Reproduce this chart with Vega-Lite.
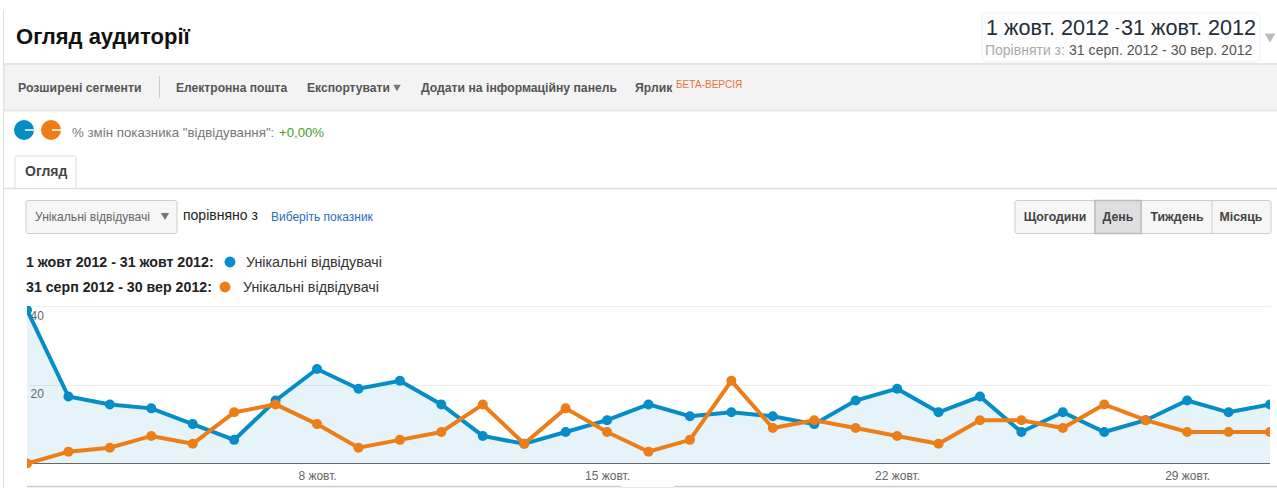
{"$schema":"https://vega.github.io/schema/vega-lite/v6.json","width":1243,"height":164,"autosize":"none","padding":{"left":27,"top":306,"right":7,"bottom":18},"background":"#ffffff","view":{"stroke":null},"resolve":{"axis":{"x":"independent","y":"independent"}},"config":{"font":"Liberation Sans","text":{"font":"Liberation Sans","align":"left","baseline":"middle"}},
"datasets":{"visits":[
{"day":1,"series":"1 жовт 2012 - 31 жовт 2012","visitors":39},{"day":2,"series":"1 жовт 2012 - 31 жовт 2012","visitors":17},{"day":3,"series":"1 жовт 2012 - 31 жовт 2012","visitors":15},{"day":4,"series":"1 жовт 2012 - 31 жовт 2012","visitors":14},{"day":5,"series":"1 жовт 2012 - 31 жовт 2012","visitors":10},{"day":6,"series":"1 жовт 2012 - 31 жовт 2012","visitors":6},{"day":7,"series":"1 жовт 2012 - 31 жовт 2012","visitors":16},{"day":8,"series":"1 жовт 2012 - 31 жовт 2012","visitors":24},{"day":9,"series":"1 жовт 2012 - 31 жовт 2012","visitors":19},{"day":10,"series":"1 жовт 2012 - 31 жовт 2012","visitors":21},{"day":11,"series":"1 жовт 2012 - 31 жовт 2012","visitors":15},{"day":12,"series":"1 жовт 2012 - 31 жовт 2012","visitors":7},{"day":13,"series":"1 жовт 2012 - 31 жовт 2012","visitors":5},{"day":14,"series":"1 жовт 2012 - 31 жовт 2012","visitors":8},{"day":15,"series":"1 жовт 2012 - 31 жовт 2012","visitors":11},{"day":16,"series":"1 жовт 2012 - 31 жовт 2012","visitors":15},{"day":17,"series":"1 жовт 2012 - 31 жовт 2012","visitors":12},{"day":18,"series":"1 жовт 2012 - 31 жовт 2012","visitors":13},{"day":19,"series":"1 жовт 2012 - 31 жовт 2012","visitors":12},{"day":20,"series":"1 жовт 2012 - 31 жовт 2012","visitors":10},{"day":21,"series":"1 жовт 2012 - 31 жовт 2012","visitors":16},{"day":22,"series":"1 жовт 2012 - 31 жовт 2012","visitors":19},{"day":23,"series":"1 жовт 2012 - 31 жовт 2012","visitors":13},{"day":24,"series":"1 жовт 2012 - 31 жовт 2012","visitors":17},{"day":25,"series":"1 жовт 2012 - 31 жовт 2012","visitors":8},{"day":26,"series":"1 жовт 2012 - 31 жовт 2012","visitors":13},{"day":27,"series":"1 жовт 2012 - 31 жовт 2012","visitors":8},{"day":28,"series":"1 жовт 2012 - 31 жовт 2012","visitors":11},{"day":29,"series":"1 жовт 2012 - 31 жовт 2012","visitors":16},{"day":30,"series":"1 жовт 2012 - 31 жовт 2012","visitors":13},{"day":31,"series":"1 жовт 2012 - 31 жовт 2012","visitors":15},
{"day":1,"series":"31 серп 2012 - 30 вер 2012","visitors":0},{"day":2,"series":"31 серп 2012 - 30 вер 2012","visitors":3},{"day":3,"series":"31 серп 2012 - 30 вер 2012","visitors":4},{"day":4,"series":"31 серп 2012 - 30 вер 2012","visitors":7},{"day":5,"series":"31 серп 2012 - 30 вер 2012","visitors":5},{"day":6,"series":"31 серп 2012 - 30 вер 2012","visitors":13},{"day":7,"series":"31 серп 2012 - 30 вер 2012","visitors":15},{"day":8,"series":"31 серп 2012 - 30 вер 2012","visitors":10},{"day":9,"series":"31 серп 2012 - 30 вер 2012","visitors":4},{"day":10,"series":"31 серп 2012 - 30 вер 2012","visitors":6},{"day":11,"series":"31 серп 2012 - 30 вер 2012","visitors":8},{"day":12,"series":"31 серп 2012 - 30 вер 2012","visitors":15},{"day":13,"series":"31 серп 2012 - 30 вер 2012","visitors":5},{"day":14,"series":"31 серп 2012 - 30 вер 2012","visitors":14},{"day":15,"series":"31 серп 2012 - 30 вер 2012","visitors":8},{"day":16,"series":"31 серп 2012 - 30 вер 2012","visitors":3},{"day":17,"series":"31 серп 2012 - 30 вер 2012","visitors":6},{"day":18,"series":"31 серп 2012 - 30 вер 2012","visitors":21},{"day":19,"series":"31 серп 2012 - 30 вер 2012","visitors":9},{"day":20,"series":"31 серп 2012 - 30 вер 2012","visitors":11},{"day":21,"series":"31 серп 2012 - 30 вер 2012","visitors":9},{"day":22,"series":"31 серп 2012 - 30 вер 2012","visitors":7},{"day":23,"series":"31 серп 2012 - 30 вер 2012","visitors":5},{"day":24,"series":"31 серп 2012 - 30 вер 2012","visitors":11},{"day":25,"series":"31 серп 2012 - 30 вер 2012","visitors":11},{"day":26,"series":"31 серп 2012 - 30 вер 2012","visitors":9},{"day":27,"series":"31 серп 2012 - 30 вер 2012","visitors":15},{"day":28,"series":"31 серп 2012 - 30 вер 2012","visitors":11},{"day":29,"series":"31 серп 2012 - 30 вер 2012","visitors":8},{"day":30,"series":"31 серп 2012 - 30 вер 2012","visitors":8},{"day":31,"series":"31 серп 2012 - 30 вер 2012","visitors":8}
]},
"data":{"name":"visits"},
"layer":[
{"transform":[{"filter":"datum.series === '1 жовт 2012 - 31 жовт 2012'"}],"mark":{"type":"area","color":"#058dc7","opacity":0.1,"clip":true},"encoding":{"x":{"field":"day","type":"quantitative","scale":{"domain":[1,31],"nice":false,"zero":false},"axis":{"values":[8,15,22,29],"grid":false,"ticks":false,"tickSize":0,"domain":false,"title":null,"labelExpr":"datum.value + ' жовт.'","labelColor":"#666666","labelFontSize":12,"labelPadding":0,"labelFont":"Liberation Sans"}},"y":{"field":"visitors","type":"quantitative","scale":{"domain":[-1.651,40],"nice":false,"zero":false},"axis":{"values":[20,40],"grid":true,"gridColor":"#eeeeee","ticks":false,"tickSize":0,"domain":false,"title":null,"labelAlign":"left","labelBaseline":"middle","labelPadding":-3,"labelOffset":9,"labelColor":"#666666","labelFontSize":12,"labelFont":"Liberation Sans"}},"y2":{"datum":0}}},
{"data":{"values":[{"baseline":0}]},"mark":{"type":"rule","color":"#666666","strokeWidth":1},"encoding":{"y":{"field":"baseline","type":"quantitative","axis":null}}},
{"mark":{"type":"line","strokeWidth":4,"clip":true},"encoding":{"x":{"field":"day","type":"quantitative","axis":null},"y":{"field":"visitors","type":"quantitative","axis":null},"color":{"field":"series","type":"nominal","legend":null,"scale":{"domain":["1 жовт 2012 - 31 жовт 2012","31 серп 2012 - 30 вер 2012"],"range":["#058dc7","#ed7e17"]}}}},
{"mark":{"type":"point","filled":true,"opacity":1,"size":100,"clip":true},"encoding":{"x":{"field":"day","type":"quantitative","axis":null},"y":{"field":"visitors","type":"quantitative","axis":null},"color":{"field":"series","type":"nominal","legend":null}}},

{"data":{"values":[{}]},"mark":{"type":"rule","color":"#dddddd","strokeWidth":1},"encoding":{"x":{"datum":0.433,"axis":null},"y":{"datum":115.175,"axis":null},"y2":{"datum":-6.222}}},
{"data":{"values":[{}]},"mark":{"type":"rect","fill":"#f3f3f3","stroke":"#e5e5e5","strokeWidth":2},"encoding":{"x":{"datum":0.445,"axis":null},"x2":{"datum":31.4},"y":{"datum":101.46,"axis":null},"y2":{"datum":89.651}}},
{"data":{"values":[{}]},"mark":{"type":"rule","color":"#cccccc"},"encoding":{"x":{"datum":4.198,"axis":null},"y":{"datum":98.413,"axis":null},"y2":{"datum":92.825}}},
{"data":{"values":[{}]},"mark":{"type":"rect","fill":"#fefefe","stroke":"#f0f0f0","cornerRadius":4},"encoding":{"x":{"datum":24.049,"axis":null},"x2":{"datum":30.759},"y":{"datum":114.413,"axis":null},"y2":{"datum":101.968}}},
{"data":{"values":[{}]},"mark":{"type":"point","shape":"triangle-down","filled":true,"opacity":1,"color":"#bbbbbb","size":110},"encoding":{"x":{"datum":31,"axis":null},"y":{"datum":108.063,"axis":null}}},
{"data":{"values":[{}]},"mark":{"type":"rule","color":"#dddddd","strokeWidth":1.5},"encoding":{"x":{"datum":0.445,"axis":null},"x2":{"datum":31.169},"y":{"datum":69.841,"axis":null}}},
{"data":{"values":[{}]},"mark":{"type":"rect","fill":"#ffffff","stroke":"#dddddd","cornerRadiusTopLeft":2,"cornerRadiusTopRight":2},"encoding":{"x":{"datum":0.71,"axis":null},"x2":{"datum":2.183},"y":{"datum":78.095,"axis":null},"y2":{"datum":69.841}}},
{"data":{"values":[{}]},"mark":{"type":"rect","fill":"#f6f6f6","stroke":"#cccccc","cornerRadius":2},"encoding":{"x":{"datum":0.976,"axis":null},"x2":{"datum":4.62},"y":{"datum":66.794,"axis":null},"y2":{"datum":58.413}}},
{"data":{"values":[{}]},"mark":{"type":"point","shape":"triangle-down","filled":true,"opacity":1,"color":"#777777","size":70},"encoding":{"x":{"datum":4.331,"axis":null},"y":{"datum":62.73,"axis":null}}},
{"data":{"values":[{}]},"mark":{"type":"rect","fill":"#f6f6f6","stroke":"#cccccc","cornerRadius":2},"encoding":{"x":{"datum":24.846,"axis":null},"x2":{"datum":31.024},"y":{"datum":66.794,"axis":null},"y2":{"datum":58.413}}},
{"data":{"values":[{}]},"mark":{"type":"rect","fill":"#dedede","stroke":"#bbbbbb","strokeWidth":1.5},"encoding":{"x":{"datum":26.776,"axis":null},"x2":{"datum":27.887},"y":{"datum":66.794,"axis":null},"y2":{"datum":58.413}}},
{"data":{"values":[{}]},"mark":{"type":"rule","color":"#cccccc"},"encoding":{"x":{"datum":29.6,"axis":null},"y":{"datum":66.794,"axis":null},"y2":{"datum":58.413}}},
{"data":{"values":[{}]},"mark":{"type":"rule","color":"#cccccc","strokeWidth":1.5},"encoding":{"x":{"datum":1,"axis":null},"x2":{"datum":15.336},"y":{"datum":-5.841,"axis":null}}},
{"data":{"values":[{}]},"mark":{"type":"rule","color":"#e6e6e6","strokeWidth":1},"encoding":{"x":{"datum":15.336,"axis":null},"x2":{"datum":16.616},"y":{"datum":-6.1,"axis":null}}},
{"data":{"values":[{}]},"mark":{"type":"rule","color":"#cccccc","strokeWidth":1.5},"encoding":{"x":{"datum":16.616,"axis":null},"x2":{"datum":31.169},"y":{"datum":-5.841,"axis":null}}},
{"data":{"values":[{}]},"mark":{"type":"point","shape":"circle","filled":true,"opacity":1,"color":"#058dc7","size":400},"encoding":{"x":{"datum":0.928,"axis":null},"y":{"datum":84.698,"axis":null}}},
{"data":{"values":[{}]},"mark":{"type":"point","shape":"circle","filled":true,"opacity":1,"color":"#ed7e17","size":400},"encoding":{"x":{"datum":1.579,"axis":null},"y":{"datum":84.698,"axis":null}}},
{"data":{"values":[{}]},"mark":{"type":"rule","color":"#ffffff","strokeWidth":1.5},"encoding":{"x":{"datum":0.952,"axis":null},"x2":{"datum":1.169},"y":{"datum":84.698,"axis":null}}},
{"data":{"values":[{}]},"mark":{"type":"rule","color":"#ffffff","strokeWidth":1.5},"encoding":{"x":{"datum":1.603,"axis":null},"x2":{"datum":1.821},"y":{"datum":84.698,"axis":null}}},
{"data":{"values":[{}]},"mark":{"type":"point","shape":"triangle-down","filled":true,"opacity":1,"color":"#777777","size":55},"encoding":{"x":{"datum":9.93,"axis":null},"y":{"datum":95.365,"axis":null}}},
{"data":{"values":[{}]},"mark":{"type":"point","shape":"circle","filled":true,"opacity":1,"color":"#058dc7","size":120},"encoding":{"x":{"datum":5.899,"axis":null},"y":{"datum":51.175,"axis":null}}},
{"data":{"values":[{}]},"mark":{"type":"point","shape":"circle","filled":true,"opacity":1,"color":"#ed7e17","size":120},"encoding":{"x":{"datum":5.779,"axis":null},"y":{"datum":44.825,"axis":null}}},

{"data":{"values":[{"label":"Огляд аудиторії"}]},"mark":{"type":"text","fontSize":22,"fontWeight":"bold","color":"#111111"},"encoding":{"text":{"field":"label"},"x":{"datum":0.735,"axis":null},"y":{"datum":108.317,"axis":null}}},
{"data":{"values":[{"label":"1 жовт. 2012"}]},"mark":{"type":"text","fontSize":21.6,"color":"#222d3a"},"encoding":{"text":{"field":"label"},"x":{"datum":24.146,"axis":null},"y":{"datum":110.349,"axis":null}}},
{"data":{"values":[{"label":"-"}]},"mark":{"type":"text","fontSize":14,"color":"#222d3a"},"encoding":{"text":{"field":"label"},"x":{"datum":27.259,"axis":null},"y":{"datum":110.349,"axis":null}}},
{"data":{"values":[{"label":"31 жовт. 2012"}]},"mark":{"type":"text","fontSize":21.6,"color":"#222d3a"},"encoding":{"text":{"field":"label"},"x":{"datum":27.404,"axis":null},"y":{"datum":110.349,"axis":null}}},
{"data":{"values":[{"label":"Порівняти з:"}]},"mark":{"type":"text","fontSize":14,"color":"#aaaaaa"},"encoding":{"text":{"field":"label"},"x":{"datum":24.121,"axis":null},"y":{"datum":104.762,"axis":null}}},
{"data":{"values":[{"label":"31 серп. 2012 - 30 вер. 2012"}]},"mark":{"type":"text","fontSize":14.1,"color":"#555555"},"encoding":{"text":{"field":"label"},"x":{"datum":26.149,"axis":null},"y":{"datum":104.762,"axis":null}}},
{"data":{"values":[{"label":"Розширені сегменти"}]},"mark":{"type":"text","fontSize":12.3,"fontWeight":"bold","color":"#555555"},"encoding":{"text":{"field":"label"},"x":{"datum":0.783,"axis":null},"y":{"datum":95.365,"axis":null}}},
{"data":{"values":[{"label":"Електронна пошта"}]},"mark":{"type":"text","fontSize":12.1,"fontWeight":"bold","color":"#555555"},"encoding":{"text":{"field":"label"},"x":{"datum":4.596,"axis":null},"y":{"datum":95.365,"axis":null}}},
{"data":{"values":[{"label":"Експортувати"}]},"mark":{"type":"text","fontSize":12.1,"fontWeight":"bold","color":"#555555"},"encoding":{"text":{"field":"label"},"x":{"datum":7.758,"axis":null},"y":{"datum":95.365,"axis":null}}},
{"data":{"values":[{"label":"Додати на інформаційну панель"}]},"mark":{"type":"text","fontSize":12.2,"fontWeight":"bold","color":"#555555"},"encoding":{"text":{"field":"label"},"x":{"datum":10.509,"axis":null},"y":{"datum":95.365,"axis":null}}},
{"data":{"values":[{"label":"Ярлик"}]},"mark":{"type":"text","fontSize":12.2,"fontWeight":"bold","color":"#555555"},"encoding":{"text":{"field":"label"},"x":{"datum":15.674,"axis":null},"y":{"datum":95.365,"axis":null}}},
{"data":{"values":[{"label":"БЕТА-ВЕРСІЯ"}]},"mark":{"type":"text","fontSize":10,"color":"#e8703a"},"encoding":{"text":{"field":"label"},"x":{"datum":16.664,"axis":null},"y":{"datum":96.127,"axis":null}}},
{"data":{"values":[{"label":"% змін показника \"відвідування\":"}]},"mark":{"type":"text","fontSize":13.3,"color":"#777777"},"encoding":{"text":{"field":"label"},"x":{"datum":2.086,"axis":null},"y":{"datum":83.937,"axis":null}}},
{"data":{"values":[{"label":"+0,00%"}]},"mark":{"type":"text","fontSize":13.2,"color":"#4a9c2b"},"encoding":{"text":{"field":"label"},"x":{"datum":7.082,"axis":null},"y":{"datum":83.937,"axis":null}}},
{"data":{"values":[{"label":"Огляд"}]},"mark":{"type":"text","fontSize":14,"fontWeight":"bold","color":"#444444"},"encoding":{"text":{"field":"label"},"x":{"datum":0.952,"axis":null},"y":{"datum":73.905,"axis":null}}},
{"data":{"values":[{"label":"Унікальні відвідувачі"}]},"mark":{"type":"text","fontSize":12.1,"color":"#666666"},"encoding":{"text":{"field":"label"},"x":{"datum":1.193,"axis":null},"y":{"datum":62.73,"axis":null}}},
{"data":{"values":[{"label":"порівняно з"}]},"mark":{"type":"text","fontSize":14,"color":"#222222"},"encoding":{"text":{"field":"label"},"x":{"datum":4.765,"axis":null},"y":{"datum":62.984,"axis":null}}},
{"data":{"values":[{"label":"Виберіть показник"}]},"mark":{"type":"text","fontSize":12,"color":"#2a6ebb"},"encoding":{"text":{"field":"label"},"x":{"datum":6.889,"axis":null},"y":{"datum":62.73,"axis":null}}},
{"data":{"values":[{"label":"Щогодини"}]},"mark":{"type":"text","fontSize":12.3,"fontWeight":"bold","color":"#444444","align":"center"},"encoding":{"text":{"field":"label"},"x":{"datum":25.811,"axis":null},"y":{"datum":62.73,"axis":null}}},
{"data":{"values":[{"label":"День"}]},"mark":{"type":"text","fontSize":12.3,"fontWeight":"bold","color":"#444444","align":"center"},"encoding":{"text":{"field":"label"},"x":{"datum":27.331,"axis":null},"y":{"datum":62.73,"axis":null}}},
{"data":{"values":[{"label":"Тиждень"}]},"mark":{"type":"text","fontSize":12.3,"fontWeight":"bold","color":"#444444","align":"center"},"encoding":{"text":{"field":"label"},"x":{"datum":28.755,"axis":null},"y":{"datum":62.73,"axis":null}}},
{"data":{"values":[{"label":"Місяць"}]},"mark":{"type":"text","fontSize":12.3,"fontWeight":"bold","color":"#444444","align":"center"},"encoding":{"text":{"field":"label"},"x":{"datum":30.3,"axis":null},"y":{"datum":62.73,"axis":null}}},
{"data":{"values":[{"label":"1 жовт 2012 - 31 жовт 2012:"}]},"mark":{"type":"text","fontSize":14.2,"fontWeight":"bold","color":"#222222"},"encoding":{"text":{"field":"label"},"x":{"datum":0.976,"axis":null},"y":{"datum":50.921,"axis":null}}},
{"data":{"values":[{"label":"31 серп 2012 - 30 вер 2012:"}]},"mark":{"type":"text","fontSize":14.2,"fontWeight":"bold","color":"#222222"},"encoding":{"text":{"field":"label"},"x":{"datum":0.976,"axis":null},"y":{"datum":44.571,"axis":null}}},
{"data":{"values":[{"label":"Унікальні відвідувачі"}]},"mark":{"type":"text","fontSize":14.3,"color":"#333333"},"encoding":{"text":{"field":"label"},"x":{"datum":6.286,"axis":null},"y":{"datum":50.921,"axis":null}}},
{"data":{"values":[{"label":"Унікальні відвідувачі"}]},"mark":{"type":"text","fontSize":14.3,"color":"#333333"},"encoding":{"text":{"field":"label"},"x":{"datum":6.213,"axis":null},"y":{"datum":44.571,"axis":null}}}
]}
